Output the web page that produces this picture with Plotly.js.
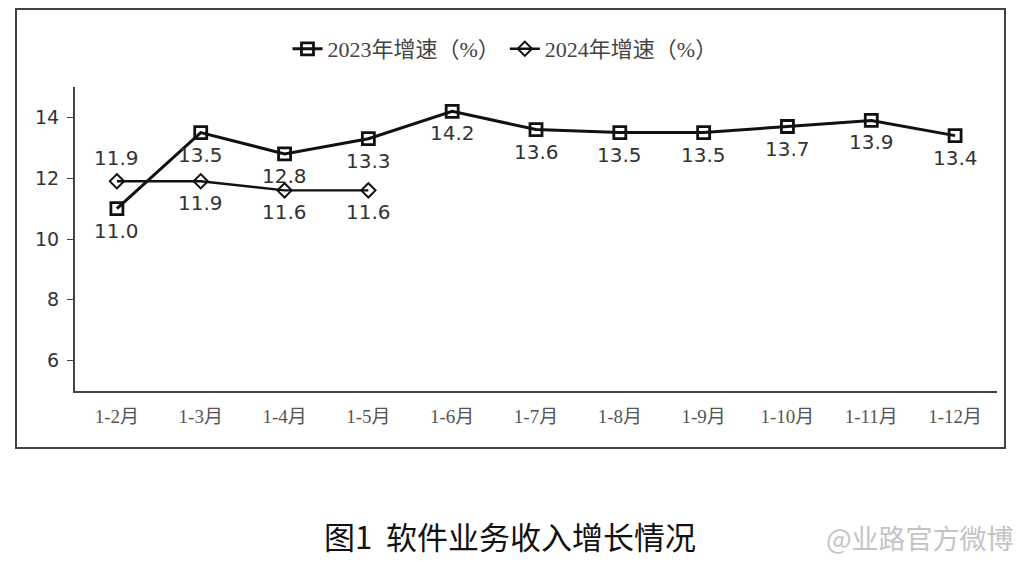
<!DOCTYPE html>
<html>
<head>
<meta charset="utf-8">
<script src="https://cdn.plot.ly/plotly-3.0.1.min.js"></script>
<style>html,body{margin:0;padding:0;background:#fff;}#chart{width:1027px;height:562px;}</style>
</head>
<body>
<div id="chart"></div>
<script>
const categories = ['1-2月','1-3月','1-4月','1-5月','1-6月','1-7月','1-8月','1-9月','1-10月','1-11月','1-12月'];
const growth2023 = [11.0, 13.5, 12.8, 13.3, 14.2, 13.6, 13.5, 13.5, 13.7, 13.9, 13.4];
const growth2024 = [11.9, 11.9, 11.6, 11.6];
const seriesNames = ['2023年增速（%）', '2024年增速（%）'];
const yTicks = [6, 8, 10, 12, 14];
const chartTitle = '图1  软件业务收入增长情况';
const watermark = '@业路官方微博';

const W = 1027, H = 562;
const px = x => x / W;
const py = y => 1 - y / H;

const labelFont = {family: 'DejaVu Sans, Noto Sans CJK SC', size: 20, color: '#333'};

const traces = [
  {
    x: categories, y: growth2023, name: seriesNames[0], type: 'scatter',
    mode: 'lines+markers',
    line: {color: '#111', width: 3},
    marker: {symbol: 'square-open', size: 12, color: '#111', line: {width: 2.8, color: '#111'}},
    cliponaxis: false
  },
  {
    x: categories.slice(0, growth2024.length), y: growth2024, name: seriesNames[1], type: 'scatter',
    mode: 'lines+markers',
    line: {color: '#111', width: 2.4},
    marker: {symbol: 'diamond-open', size: 11, color: '#111', line: {width: 2, color: '#111'}},
    cliponaxis: false
  }
];

const labelAnnotations = [];
growth2023.forEach((v, i) => labelAnnotations.push({
  x: categories[i], y: v, xref: 'x', yref: 'y', text: v.toFixed(1), showarrow: false,
  yshift: -22, font: labelFont, xanchor: 'center', yanchor: 'middle'
}));
growth2024.forEach((v, i) => labelAnnotations.push({
  x: categories[i], y: v, xref: 'x', yref: 'y', text: v.toFixed(1), showarrow: false,
  yshift: i === 0 ? 23 : -22, font: labelFont, xanchor: 'center', yanchor: 'middle'
}));

const layout = {
  width: W, height: H,
  margin: {l: 0, r: 0, t: 0, b: 0},
  paper_bgcolor: '#fff', plot_bgcolor: '#fff',
  showlegend: true,
  legend: {
    orientation: 'h', x: px(505), xanchor: 'center', y: py(49), yanchor: 'middle',
    font: {family: 'Liberation Serif, Noto Sans CJK SC', size: 22, color: '#444'},
    itemwidth: 30, tracegroupgap: 0, bgcolor: 'rgba(0,0,0,0)'
  },
  xaxis: {
    domain: [px(75), px(997)],
    type: 'category', range: [-0.5, 10.5],
    showline: true, linecolor: '#444', linewidth: 2,
    showgrid: false, zeroline: false, ticks: '',
    tickfont: {family: 'Liberation Serif, Noto Sans CJK SC', size: 19, color: '#555'},
    ticklabelstandoff: 7, fixedrange: true
  },
  yaxis: {
    domain: [py(391), py(87)],
    range: [5, 15], tickvals: yTicks, ticktext: yTicks.map(String),
    showline: true, linecolor: '#444', linewidth: 2,
    showgrid: false, zeroline: false,
    ticks: 'outside', ticklen: 6, tickcolor: '#444', tickwidth: 1,
    tickfont: {family: 'DejaVu Sans', size: 19, color: '#333'},
    ticklabelstandoff: 4, fixedrange: true
  },
  shapes: [
    {type: 'rect', xref: 'paper', yref: 'paper', x0: px(16), x1: px(1005), y0: py(448), y1: py(9),
     line: {color: '#444', width: 2}, fillcolor: 'rgba(0,0,0,0)'}
  ],
  annotations: labelAnnotations.concat([
    {xref: 'paper', yref: 'paper', x: px(510), y: py(535), xanchor: 'center', yanchor: 'middle',
     text: chartTitle, showarrow: false,
     font: {family: 'Noto Sans CJK SC', size: 31, color: '#111'}},
    {xref: 'paper', yref: 'paper', x: px(1016), y: py(537), xanchor: 'right', yanchor: 'middle',
     text: watermark, showarrow: false,
     font: {family: 'Noto Sans CJK SC', size: 27, color: '#c4c4c4'}}
  ])
};

Plotly.newPlot('chart', traces, layout, {displayModeBar: false, staticPlot: true});
</script>
</body>
</html>
